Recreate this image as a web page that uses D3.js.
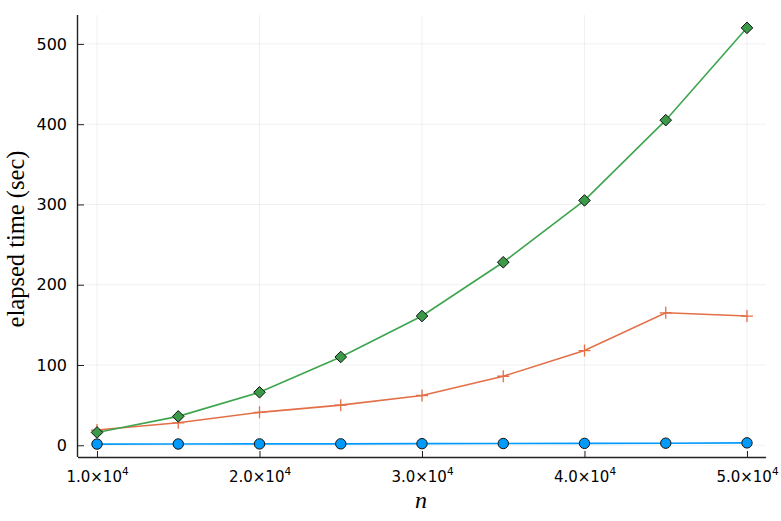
<!DOCTYPE html>
<html>
<head>
<meta charset="utf-8">
<script src="https://cdn.jsdelivr.net/npm/d3@7"></script>
<style>
  body { margin: 0; background: #fff; }
  svg { display: block; }
  .tick text { font-family: "DejaVu Sans", sans-serif; }
</style>
</head>
<body>
<svg width="781" height="521"></svg>
<script>
// problem sizes
let nValues = [10000, 15000, 20000, 25000, 30000, 35000, 40000, 45000, 50000];
// elapsed seconds per method
let blueTimes = [1.5, 1.6, 1.7, 1.8, 2.0, 2.2, 2.4, 2.6, 3.0];
let orangeTimes = [19, 28, 41, 50, 62, 86, 118, 165, 161];
let greenTimes = [16, 36, 66, 110, 161, 228, 305, 405, 520];
let xTicks = [10000, 20000, 30000, 40000, 50000];
let yTicks = [0, 100, 200, 300, 400, 500];

let margin = { left: 78, right: 15, top: 15, bottom: 64 };
let width = 781, height = 521;

let svg = d3.select('svg');

let xScale = d3.scaleLinear()
  .domain([8830, 51170])
  .range([margin.left, width - margin.right]);
let yScale = d3.scaleLinear()
  .domain([-14.6, 536])
  .range([height - margin.bottom, margin.top]);

let plotLeft = margin.left, plotRight = width - margin.right;
let plotTop = margin.top, plotBottom = height - margin.bottom;

// grid
let grid = svg.append('g');
grid.selectAll('line.gx')
  .data(xTicks)
  .join('line')
  .attr('class', 'gx')
  .attr('x1', d => xScale(d)).attr('x2', d => xScale(d))
  .attr('y1', plotTop).attr('y2', plotBottom)
  .style('stroke', '#000').style('stroke-opacity', 0.1).style('stroke-width', 0.6);
grid.selectAll('line.gy')
  .data(yTicks)
  .join('line')
  .attr('class', 'gy')
  .attr('y1', d => yScale(d)).attr('y2', d => yScale(d))
  .attr('x1', plotLeft).attr('x2', plotRight)
  .style('stroke', '#000').style('stroke-opacity', 0.1).style('stroke-width', 0.6);

// axes
let xAxis = d3.axisBottom(xScale)
  .tickValues(xTicks)
  .tickSizeInner(-6)
  .tickSizeOuter(0)
  .tickFormat('');
let gx = svg.append('g')
  .attr('transform', `translate(0,${plotBottom})`)
  .call(xAxis);
gx.select('.domain').attr('d', `M${plotLeft},0.5H${plotRight}`).style('stroke', '#222').style('stroke-width', 1.4);
gx.selectAll('.tick line').style('stroke', '#222');

let xLabels = gx.selectAll('.tick text')
  .attr('y', 25)
  .attr('dy', 0)
  .style('font-size', '15px')
  .style('fill', '#000')
  .attr('text-anchor', 'middle');
xLabels.each(function(d) {
  let t = d3.select(this);
  let mant = (d / 10000).toFixed(1);
  t.append('tspan').text(mant + '\u00d710');
  t.append('tspan').attr('dy', -7).style('font-size', '10.5px').text('4');
});

let yAxis = d3.axisLeft(yScale)
  .tickValues(yTicks)
  .tickSizeInner(-6)
  .tickSizeOuter(0);
let gy = svg.append('g')
  .attr('transform', `translate(${plotLeft},0)`)
  .call(yAxis);
gy.select('.domain').attr('d', `M-0.5,${plotTop}V${plotBottom}`).style('stroke', '#222').style('stroke-width', 1.4);
gy.selectAll('.tick line').style('stroke', '#222');
gy.selectAll('.tick text')
  .attr('x', -11)
  .style('font-size', '16px')
  .style('fill', '#000');

// axis labels
svg.append('text')
  .attr('x', 421)
  .attr('y', 508)
  .attr('text-anchor', 'middle')
  .style('font-family', '"Liberation Serif", "DejaVu Serif", serif')
  .style('font-style', 'italic')
  .style('font-size', '24px')
  .text('n');
svg.append('text')
  .attr('transform', 'translate(24,239) rotate(-90)')
  .attr('text-anchor', 'middle')
  .style('font-family', '"Liberation Serif", "DejaVu Serif", serif')
  .style('font-size', '24.5px')
  .text('elapsed time (sec)');

let line = d3.line()
  .x(d => xScale(d[0]))
  .y(d => yScale(d[1]));

function series(times, color) {
  let pts = nValues.map((n, i) => [n, times[i]]);
  svg.append('path')
    .datum(pts)
    .attr('d', line)
    .style('fill', 'none')
    .style('stroke', color)
    .style('stroke-width', 1.6);
  return pts;
}

let bluePts = series(blueTimes, '#009AFA');
svg.append('g').selectAll('circle')
  .data(bluePts)
  .join('circle')
  .attr('cx', d => xScale(d[0]))
  .attr('cy', d => yScale(d[1]))
  .attr('r', 5.2)
  .style('fill', '#009AFA')
  .style('stroke', '#111')
  .style('stroke-width', 1);

let orangePts = series(orangeTimes, '#E36F47');
svg.append('g').selectAll('path')
  .data(orangePts)
  .join('path')
  .attr('d', d => {
    let x = xScale(d[0]), y = yScale(d[1]), s = 6;
    return `M${x - s},${y}H${x + s}M${x},${y - s}V${y + s}`;
  })
  .style('stroke', '#E36F47')
  .style('stroke-width', 1.3);

let greenPts = series(greenTimes, '#3EA44E');
svg.append('g').selectAll('path')
  .data(greenPts)
  .join('path')
  .attr('d', d => {
    let x = xScale(d[0]), y = yScale(d[1]), s = 5.8;
    return `M${x},${y - s}L${x + s},${y}L${x},${y + s}L${x - s},${y}Z`;
  })
  .style('fill', '#3A9A48')
  .style('stroke', '#111')
  .style('stroke-width', 1);
</script>
</body>
</html>
